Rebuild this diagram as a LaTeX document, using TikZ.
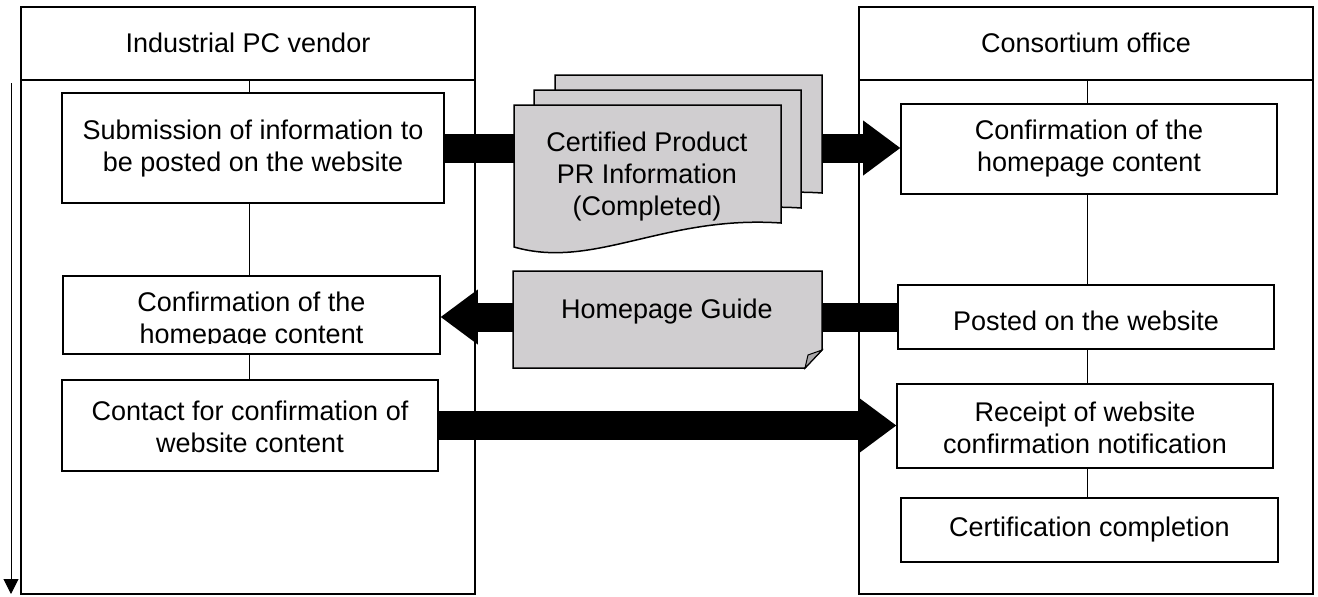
\documentclass[tikz,border=0pt]{standalone}
\usepackage{fontspec}
\setmainfont{Liberation Sans}
\usetikzlibrary{arrows.meta}
\definecolor{docgray}{RGB}{208,206,208}
\definecolor{foldgray}{RGB}{170,168,170}
\begin{document}
\begin{tikzpicture}[x=1pt,y=-1pt,
  lane/.style={draw, line width=1.8pt},
  stepbox/.style={draw, line width=1.6pt, fill=white, inner sep=0pt},
  lbl/.style={font=\fontsize{27}{32}\selectfont, align=center, inner sep=0pt},
  link/.style={line width=0.9pt},
  blockarrow/.style={line width=29pt, -{Triangle[length=37pt,width=55pt,line width=0pt]}},
  doc/.style={draw, line width=1.5pt, fill=docgray},
  docpage/.pic={\path[doc] (0,0) -- (267,0) -- (267,118) .. controls (150,110) and (80,165) .. (0,142) -- cycle;}]
\useasboundingbox (0,0) rectangle (1318,597);

% boxes (defined first so arrows can refer to them; drawn on top later)
\path (253,148) node[stepbox, minimum width=382pt, minimum height=110pt] (L1) {};
\path (251.5,315) node[stepbox, minimum width=377pt, minimum height=78pt] (L2) {};
\path (250,425.5) node[stepbox, minimum width=376pt, minimum height=91pt] (L3) {};
\path (1089,149) node[stepbox, minimum width=376pt, minimum height=90pt] (R1) {};
\path (1086,317) node[stepbox, minimum width=376pt, minimum height=64pt] (R2) {};
\path (1085,426) node[stepbox, minimum width=376pt, minimum height=84pt] (R3) {};
\path (1089.5,530) node[stepbox, minimum width=377pt, minimum height=64pt] (R4) {};

% block arrows
\draw[blockarrow] (L1.east) -- (L1.east -| R1.west);
\draw[blockarrow] (R2.west) -- (R2.west -| L2.east);
\draw[blockarrow] (L3.east) -- (L3.east -| R3.west);

% lanes
\draw[lane] (21,7) rectangle (475,594);
\draw[lane] (21,80) -- (475,80);
\draw[lane] (859,7) rectangle (1313,594);
\draw[lane] (859,80) -- (1313,80);
\node[lbl] (hL) at (248,43) {Industrial PC vendor};
\node[lbl] (hR) at (1086,43) {Consortium office};
\coordinate (hLb) at (249,80);
\coordinate (hRb) at (1087,80);

% time arrow
\coordinate (t1) at (11,83);
\coordinate (t2) at (11,594);
\draw[line width=1pt, -{Triangle[length=15pt,width=15pt]}] (t1) -- (t2);

% connectors
\draw[link] (hLb) -- (L1.north -| hLb);
\draw[link] (L1.south -| hLb) -- (L2.north -| hLb);
\draw[link] (L2.south -| hLb) -- (L3.north -| hLb);
\draw[link] (hRb) -- (R1.north -| hRb);
\draw[link] (R1.south -| hRb) -- (R2.north -| hRb);
\draw[link] (R2.south -| hRb) -- (R3.north -| hRb);
\draw[link] (R3.south -| hRb) -- (R4.north -| hRb);

% boxes redrawn on top with text
\node[stepbox, minimum width=382pt, minimum height=110pt] (L1b) at (L1.center) {};
\node[lbl] (L1t) at ([yshift=-1pt]L1.center) {Submission of information to\\be posted on the website};
\node[stepbox, minimum width=377pt, minimum height=78pt] (L2b) at (L2.center) {};
\begin{scope}
  \clip (63,276) rectangle (440,343.5);
  \node[lbl] (L2t) at ([yshift=-6pt]L2.center) {Confirmation of the\\homepage content};
\end{scope}
\node[stepbox, minimum width=376pt, minimum height=91pt] (L3b) at (L3.center) {};
\node[lbl] (L3t) at ([yshift=-1pt]L3.center) {Contact for confirmation of\\website content};
\node[stepbox, minimum width=376pt, minimum height=90pt] (R1b) at (R1.center) {};
\node[lbl] (R1t) at (R1.center) {Confirmation of the\\homepage content};
\node[stepbox, minimum width=376pt, minimum height=64pt] (R2b) at (R2.center) {};
\node[lbl] (R2t) at ([yshift=-4pt]R2.center) {Posted on the website};
\node[stepbox, minimum width=376pt, minimum height=84pt] (R3b) at (R3.center) {};
\node[lbl] (R3t) at ([yshift=-2pt]R3.center) {Receipt of website\\confirmation notification};
\node[stepbox, minimum width=377pt, minimum height=64pt] (R4b) at (R4.center) {};
\node[lbl] (R4t) at (R4.center) {Certification completion};

% document stack
\pic at (555,75) {docpage};
\pic at (534,90) {docpage};
\pic at (514,105) {docpage};
\node[lbl] (cert) at (647,177) {Certified Product\\PR Information\\(Completed)};

% homepage guide
\draw[doc] (513,271) -- (822,271) -- (822,350) -- (805,368) -- (513,368) -- cycle;
\draw[line width=1pt, fill=foldgray] (805,368) -- (808,355) -- (822,350) -- cycle;
\node[lbl] (guide) at (667,312) {Homepage Guide};
\end{tikzpicture}
\end{document}
